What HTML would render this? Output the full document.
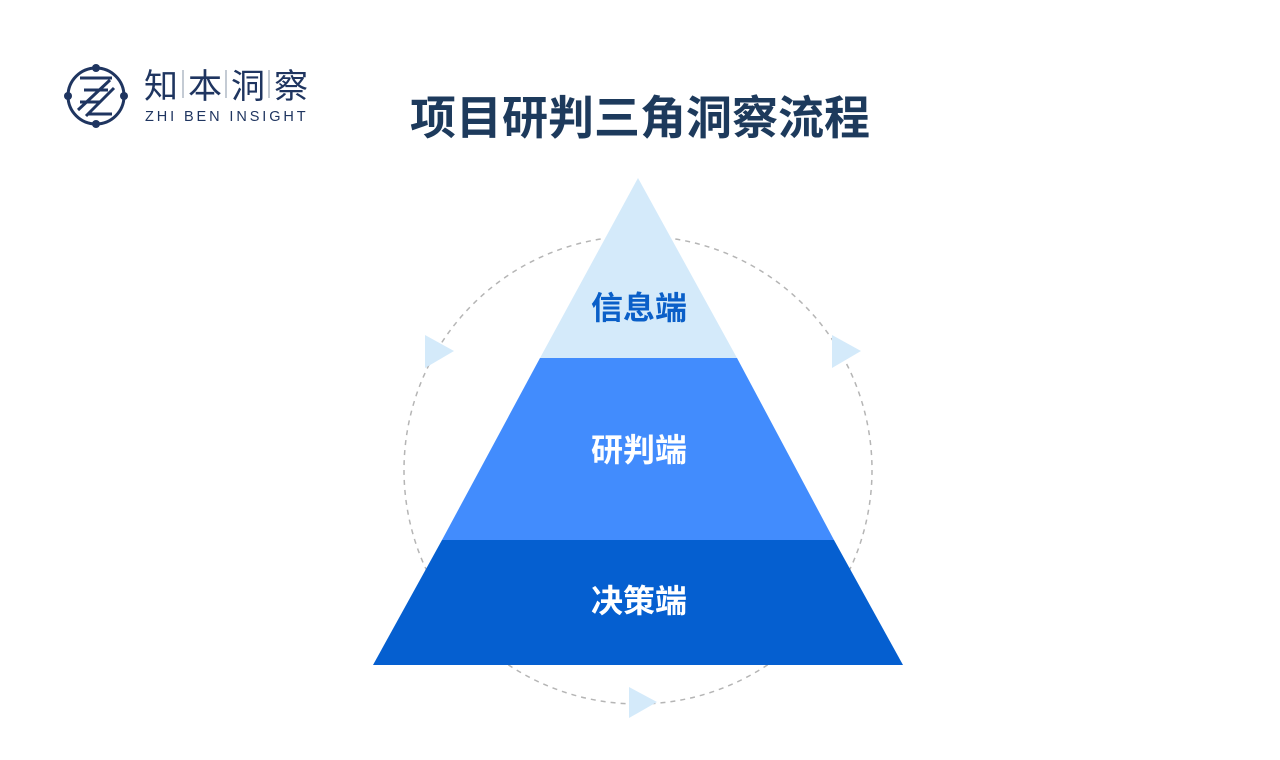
<!DOCTYPE html>
<html><head><meta charset="utf-8"><style>
body{margin:0;width:1280px;height:760px;background:#fff;overflow:hidden;font-family:"Liberation Sans","Noto Sans CJK SC",sans-serif}
</style></head><body>
<svg width="1280" height="760" xmlns="http://www.w3.org/2000/svg" style="position:absolute;left:0;top:0">
<circle cx="638" cy="470" r="234" fill="none" stroke="#b5b5b5" stroke-width="1.5" stroke-dasharray="5 5"/>
<polygon points="638,178 540,358 737,358" fill="#d4eafa"/>
<polygon points="540,358 737,358 834,540 442,540" fill="#428cfd"/>
<polygon points="442,540 834,540 903,665 373,665" fill="#055fd0"/>
<polygon points="425,335 454,351 425,368" fill="#d4eafa"/>
<polygon points="832,335 861,351 832,368" fill="#d4eafa"/>
<polygon points="629,687 657,702 629,718" fill="#d4eafa"/>
<text x="639" y="319" text-anchor="middle" font-size="32" font-weight="bold" fill="#0a5fc8" font-family="Noto Sans CJK SC,sans-serif">信息端</text>
<text x="639" y="461" text-anchor="middle" font-size="32" font-weight="bold" fill="#fff" font-family="Noto Sans CJK SC,sans-serif">研判端</text>
<text x="639" y="612" text-anchor="middle" font-size="32" font-weight="bold" fill="#fff" font-family="Noto Sans CJK SC,sans-serif">决策端</text>
<text x="640" y="134" text-anchor="middle" font-size="46" font-weight="bold" fill="#1d3a5c" font-family="Noto Sans CJK SC,sans-serif">项目研判三角洞察流程</text>
<g stroke="#1f3560" fill="none" stroke-width="3">
<circle cx="96" cy="96" r="28"/>
<path d="M80 78 L112 78 M84 90 L108 90 M80 102 L100 102 M88 114 L112 114 M78 110 L110 80 M86 116 L114 88"/>
</g>
<g fill="#1f3560"><circle cx="96" cy="68" r="4"/><circle cx="96" cy="124" r="4"/><circle cx="68" cy="96" r="4"/><circle cx="124" cy="96" r="4"/></g>
<text x="144" y="98" font-size="34" fill="#1f3560" font-family="Noto Sans CJK SC,sans-serif">知</text>
<text x="188" y="98" font-size="34" fill="#1f3560" font-family="Noto Sans CJK SC,sans-serif">本</text>
<text x="231" y="98" font-size="34" fill="#1f3560" font-family="Noto Sans CJK SC,sans-serif">洞</text>
<text x="274" y="98" font-size="34" fill="#1f3560" font-family="Noto Sans CJK SC,sans-serif">察</text>
<g stroke="#8a97aa" stroke-width="1"><line x1="183" y1="70" x2="183" y2="98"/><line x1="226" y1="70" x2="226" y2="98"/><line x1="269" y1="70" x2="269" y2="98"/></g>
<text x="145" y="121" font-size="14.5" fill="#1f3560" letter-spacing="2.9" font-family="Liberation Sans,sans-serif">ZHI BEN INSIGHT</text>
</svg>
</body></html>
